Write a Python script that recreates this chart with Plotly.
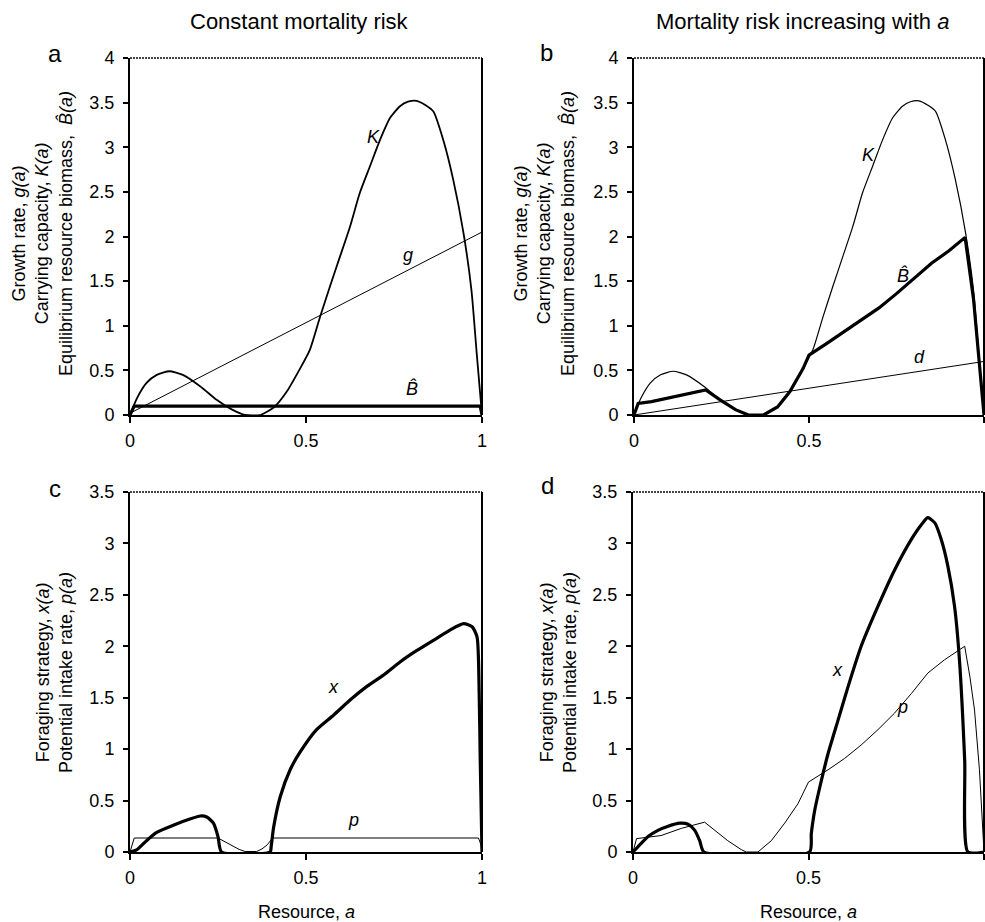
import plotly.graph_objects as go

W, H = 985, 922
FONT = "Liberation Sans, Arial, sans-serif"

# ---------------- data ----------------
# Carrying capacity K(a) (panels a and b)
k_a = [0, 0.02, 0.047, 0.076, 0.112, 0.15, 0.2, 0.246, 0.29, 0.327, 0.37, 0.41, 0.445,
       0.483, 0.511, 0.54, 0.568, 0.597, 0.625, 0.653, 0.682, 0.71, 0.739, 0.767, 0.79,
       0.814, 0.84, 0.862, 0.89, 0.918, 0.947, 0.97, 0.985, 1.0]
k_val = [0, 0.19, 0.36, 0.45, 0.49, 0.45, 0.32, 0.17, 0.06, 0, 0, 0.09, 0.26,
         0.52, 0.73, 1.10, 1.44, 1.78, 2.11, 2.49, 2.79, 3.08, 3.33, 3.46, 3.51,
         3.52, 3.47, 3.40, 3.08, 2.64, 2.05, 1.40, 0.69, 0]

# Growth rate g(a) (panel a)
g_a = [0, 1]
g_val = [0.02, 2.05]

# Equilibrium biomass, constant mortality (panel a)
bhat_a_a = [0, 0.012, 0.995, 1.0]
bhat_a_val = [0, 0.10, 0.10, 0]

# Equilibrium biomass, increasing mortality (panel b)
bhat_b_a = [0, 0.012, 0.05, 0.1, 0.15, 0.205, 0.246, 0.29, 0.327, 0.37, 0.41, 0.445,
            0.483, 0.5, 0.55, 0.6, 0.65, 0.7, 0.75, 0.8, 0.85, 0.9, 0.946, 0.97, 0.985, 1.0]
bhat_b_val = [0, 0.13, 0.15, 0.19, 0.23, 0.28, 0.17, 0.06, 0, 0, 0.09, 0.26,
              0.52, 0.67, 0.80, 0.93, 1.06, 1.20, 1.36, 1.53, 1.70, 1.84, 1.99, 1.30, 0.65, 0]

# Mortality d(a) (panel b)
d_a = [0, 1]
d_val = [0, 0.6]

# Foraging strategy x(a), constant mortality (panel c)
xc_a = [0, 0.019, 0.047, 0.076, 0.123, 0.17, 0.2, 0.218, 0.237, 0.25, 0.26, 0.398, 0.401,
        0.408, 0.427, 0.455, 0.483, 0.53, 0.578, 0.626, 0.673, 0.72, 0.768, 0.815, 0.863,
        0.91, 0.948, 0.972, 0.986, 0.992, 0.995, 1.0]
xc_val = [0, 0.02, 0.11, 0.19, 0.26, 0.32, 0.35, 0.34, 0.28, 0.15, 0, 0, 0.05,
          0.24, 0.54, 0.80, 0.97, 1.19, 1.33, 1.48, 1.61, 1.72, 1.85, 1.96, 2.06,
          2.16, 2.22, 2.19, 2.09, 1.54, 0.89, 0]

# Potential intake rate p(a), constant mortality (panel c)
pc_a = [0, 0.012, 0.25, 0.27, 0.29, 0.31, 0.327, 0.36, 0.375, 0.39, 0.405, 0.99, 0.997, 1.0]
pc_val = [0, 0.136, 0.136, 0.10, 0.06, 0.025, 0.005, 0.005, 0.03, 0.07, 0.136, 0.136, 0.07, 0]

# Foraging strategy x(a), increasing mortality (panel d)
xd_a = [0, 0.014, 0.043, 0.071, 0.1, 0.133, 0.157, 0.176, 0.19, 0.202, 0.503, 0.508, 0.518,
        0.537, 0.556, 0.584, 0.613, 0.65, 0.698, 0.745, 0.793, 0.821, 0.84, 0.86, 0.878,
        0.897, 0.916, 0.93, 0.945, 0.954, 1.0]
xd_val = [0, 0.05, 0.15, 0.21, 0.25, 0.28, 0.27, 0.21, 0.11, 0, 0, 0.18, 0.41,
          0.70, 0.96, 1.28, 1.61, 2.0, 2.39, 2.74, 3.04, 3.18, 3.25, 3.20, 3.04,
          2.78, 2.39, 1.87, 0.89, 0, 0]

# Potential intake rate p(a), increasing mortality (panel d)
pd_a = [0, 0.01, 0.08, 0.138, 0.204, 0.233, 0.27, 0.31, 0.323, 0.356, 0.394, 0.432, 0.47,
        0.5, 0.556, 0.603, 0.65, 0.698, 0.745, 0.793, 0.84, 0.888, 0.945, 0.96, 0.973, 0.987, 1.0]
pd_val = [0, 0.13, 0.16, 0.23, 0.29, 0.21, 0.11, 0.02, 0, 0, 0.11, 0.28, 0.47,
          0.68, 0.80, 0.91, 1.04, 1.19, 1.35, 1.54, 1.74, 1.87, 2.0, 1.70, 1.38, 0.80, 0]

x_tickvals = [0, 0.5, 1]
x_ticktext = ["0", "0.5", "1"]

# ---------------- figure ----------------
fig = go.Figure()

def px(x):
    return x / W

def py(y):
    return 1 - y / H

panels = {
    # name: (xaxis id, yaxis id, x-domain px, y-domain px, ymax)
    "a": ("x", "y", (130, 482), (58, 415), 4),
    "b": ("x2", "y2", (634, 984), (58, 415), 4),
    "c": ("x3", "y3", (130, 482), (492, 852), 3.5),
    "d": ("x4", "y4", (633, 984), (492, 852), 3.5),
}

def line(panel, xs, ys, width, color="black", smooth=False):
    xa, ya = panels[panel][0], panels[panel][1]
    ln = dict(color=color, width=width)
    if smooth:
        ln.update(shape="spline", smoothing=0.6)
    fig.add_trace(go.Scatter(x=xs, y=ys, mode="lines", xaxis=xa, yaxis=ya,
                             line=ln, showlegend=False, hoverinfo="skip"))

# panel a
line("a", g_a, g_val, 1)
line("a", k_a, k_val, 1.8, smooth=True)
line("a", bhat_a_a, bhat_a_val, 3.2)
# panel b
line("b", d_a, d_val, 1)
line("b", k_a, k_val, 1.2, smooth=True)
line("b", bhat_b_a, bhat_b_val, 3.2)
# panel c
line("c", pc_a, pc_val, 1)
line("c", xc_a, xc_val, 3.2, smooth=True)
# panel d
line("d", pd_a, pd_val, 1)
line("d", xd_a, xd_val, 3.2, smooth=True)

layout = dict(
    width=W, height=H,
    margin=dict(l=0, r=0, t=0, b=0),
    paper_bgcolor="white", plot_bgcolor="white",
    font=dict(family=FONT, size=17, color="black"),
    showlegend=False,
)

shapes = []
for name, (xa, ya, (x0, x1), (y0, y1), ymax) in panels.items():
    xkey = "xaxis" + xa[1:]
    ykey = "yaxis" + ya[1:]
    layout[xkey] = dict(
        domain=[px(x0), px(x1)], anchor=ya, range=[0, 1], automargin=False,
        tickvals=x_tickvals, ticktext=x_ticktext,
        showline=True, linecolor="black", linewidth=2,
        ticks="outside", ticklen=6, tickwidth=2, tickcolor="black",
        showgrid=False, zeroline=False, ticklabelstandoff=2,
        tickfont=dict(size=18),
    )
    layout[ykey] = dict(
        domain=[py(y1), py(y0)], anchor=xa, range=[0, ymax], dtick=0.5, automargin=False,
        showline=True, linecolor="black", linewidth=2,
        ticks="outside", ticklen=5, tickwidth=2, tickcolor="black",
        showgrid=False, zeroline=False, ticklabelstandoff=5,
        tickfont=dict(size=18),
    )
    dref = xa + " domain"
    yref = ya + " domain"
    # top border (hatched look) and right border
    shapes.append(dict(type="line", xref=dref, yref=yref, x0=0, x1=1, y0=1, y1=1,
                       line=dict(color="#444444", width=2, dash="2px,1px")))
    shapes.append(dict(type="line", xref=dref, yref=yref, x0=1, x1=1, y0=0, y1=1,
                       line=dict(color="black", width=2)))
layout["shapes"] = shapes

ann = []

def text(x, y, s, size=17, angle=0, italic=False, xanchor="center"):
    if italic:
        s = "<i>" + s + "</i>"
    ann.append(dict(x=px(x), y=py(y), xref="paper", yref="paper", text=s,
                    showarrow=False, textangle=angle, xanchor=xanchor, yanchor="middle",
                    font=dict(family=FONT, size=size, color="black")))

# column titles
text(299, 21, "Constant mortality risk", size=22)
text(802, 21, "Mortality risk increasing with <i>a</i>", size=22)

# panel letters
text(55, 54, "a", size=24)
text(546, 53, "b", size=24)
text(55, 488, "c", size=24)
text(547, 486, "d", size=24)

# y-axis titles
ytitle_top = ("Growth rate, <i>g(a)</i><br>Carrying capacity, <i>K(a)</i><br>"
              "Equilibrium resource biomass,  <i>B\u0302(a)</i>")
ytitle_bot = "Foraging strategy, <i>x(a)</i><br>Potential intake rate, <i>p(a)</i>"
text(43, 234, ytitle_top, size=18, angle=-90)
text(545, 234, ytitle_top, size=18, angle=-90)
text(54, 673, ytitle_bot, size=18, angle=-90)
text(558, 673, ytitle_bot, size=18, angle=-90)

# x-axis titles
text(306, 912, "Resource, <i>a</i>", size=18)
text(808, 912, "Resource, <i>a</i>", size=18)

# curve labels
text(373, 137, "K", size=18, italic=True)
text(408, 255, "g", size=18, italic=True)
text(412, 388, "B\u0302", size=18, italic=True)
text(868, 155, "K", size=18, italic=True)
text(903, 275, "B\u0302", size=18, italic=True)
text(919, 357, "d", size=18, italic=True)
text(333, 687, "x", size=18, italic=True)
text(353, 820, "p", size=18, italic=True)
text(837, 670, "x", size=18, italic=True)
text(902, 707, "p", size=18, italic=True)

layout["annotations"] = ann
fig.update_layout(**layout)
# remove the default page margin so the figure fills the window exactly
fig.write_html("out.html",
               config={"displayModeBar": False},
               post_script="document.body.style.margin='0';document.body.style.overflow='hidden';")
